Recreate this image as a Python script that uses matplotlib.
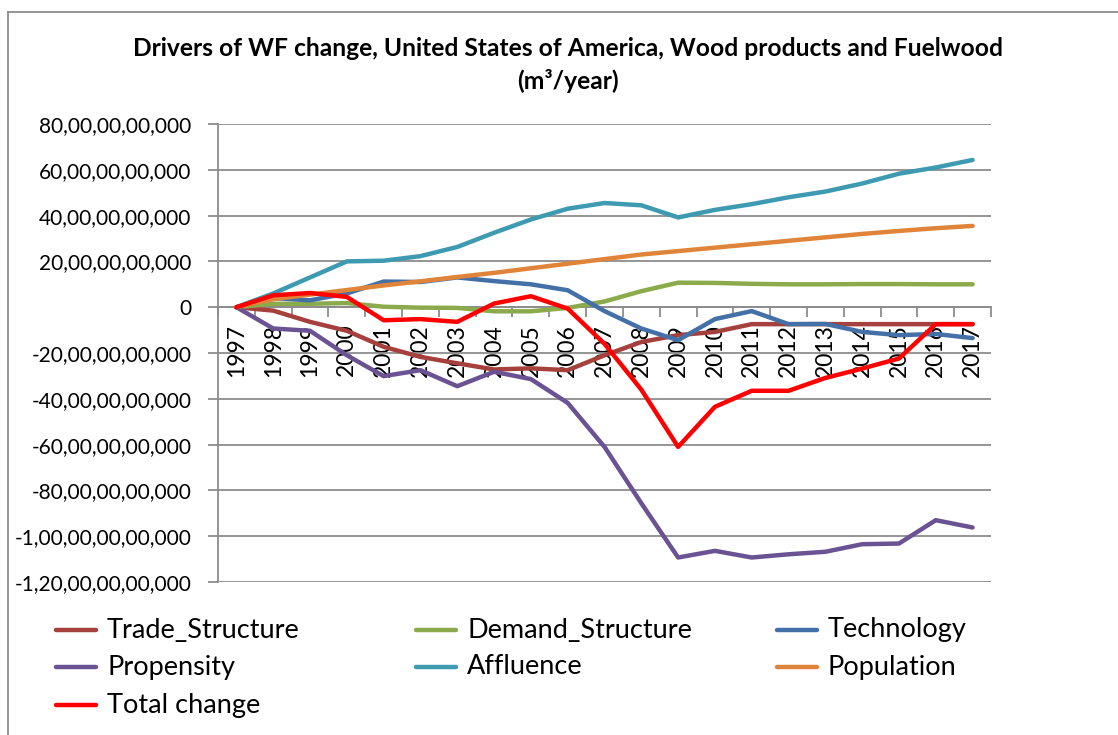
import numpy as np
import matplotlib.pyplot as plt
from matplotlib.lines import Line2D
from matplotlib.ticker import FuncFormatter, MultipleLocator

plt.rcParams['font.family'] = ['Lato', 'DejaVu Sans']

years = [str(y) for y in range(1997, 2018)]

# values in billions of m3/year (1e9)
trade_structure = [0, -1.5, -6.4, -10.3, -17.3, -21.7, -24.5, -27.2, -26.7, -27.5, -21,
                   -15.2, -12.2, -10.8, -7.4, -7.4, -7.4, -7.4, -7.4, -7.4, -7.4]
demand_structure = [0, 1.5, 1.5, 1.8, 0.2, -0.2, -0.3, -1.8, -1.8, -0.3, 2.5,
                    7, 10.7, 10.6, 10.2, 10, 10, 10.1, 10.1, 10, 10]
technology = [0, 4, 3, 6, 11.2, 11, 13, 11.4, 10, 7.4, -1.7,
              -9.3, -14.4, -5.2, -1.7, -7.4, -7.3, -10.8, -12.2, -11.7, -13.5]
propensity = [0, -9.3, -10.3, -21, -30.1, -27.5, -34.5, -28.2, -31.4, -41.8, -61,
              -85.6, -109.3, -106.4, -109.3, -107.9, -106.8, -103.5, -103.2, -93, -96.2]
affluence = [0, 6, 13, 20, 20.3, 22.3, 26.3, 32.5, 38.3, 43, 45.5,
             44.5, 39.2, 42.5, 45, 48, 50.5, 54, 58.3, 61, 64.3]
population = [0, 3.5, 5.5, 7.5, 9.5, 11.3, 13.2, 15, 17, 19, 21,
              23, 24.5, 26, 27.5, 29, 30.5, 32, 33.3, 34.5, 35.5]
total_change = [0, 5.2, 6.2, 4.5, -5.7, -5.2, -6.4, 1.6, 4.8, -0.6, -16,
                -36, -61, -43.5, -36.5, -36.5, -30.9, -26.8, -22.4, -7.4, -7.4]

series = [
    ('Trade_Structure', trade_structure, '#A5403C'),
    ('Demand_Structure', demand_structure, '#8BAA4B'),
    ('Technology', technology, '#4470A8'),
    ('Propensity', propensity, '#6B5293'),
    ('Affluence', affluence, '#3E9AB0'),
    ('Population', population, '#E0843A'),
    ('Total change', total_change, '#FF0000'),
]


def indian_fmt(v, pos):
    n = int(round(v))
    neg = n < 0
    s = str(abs(n))
    if len(s) > 3:
        head, tail = s[:-3], s[-3:]
        parts = []
        while len(head) > 2:
            parts.insert(0, head[-2:])
            head = head[:-2]
        if head:
            parts.insert(0, head)
        s = ','.join(parts) + ',' + tail
    return ('-' if neg else '') + s


W, H = 1118, 735
fig = plt.figure(figsize=(W / 100, H / 100), dpi=100)
ax = fig.add_axes([218 / W, 1 - 582 / H, (991 - 218) / W, (582 - 124) / H])

x = np.arange(len(years))
for name, vals, color in series:
    ax.plot(x, np.array(vals) * 1e9, color=color, lw=3.2, solid_capstyle='round',
            solid_joinstyle='round', zorder=3)

ax.set_xlim(-0.5, len(years) - 0.5)
ax.set_ylim(-120e9, 80e9)
ax.yaxis.set_major_locator(MultipleLocator(20e9))
ax.yaxis.set_major_formatter(FuncFormatter(indian_fmt))
ax.grid(axis='y', color='#8c8c8c', lw=1.3, zorder=0)

for s in ['top', 'right']:
    ax.spines[s].set_visible(False)
ax.spines['left'].set_color('#8c8c8c')
ax.spines['left'].set_linewidth(1.3)
ax.spines['bottom'].set_position(('data', 0))
ax.spines['bottom'].set_color('#8c8c8c')
ax.spines['bottom'].set_linewidth(1.3)
ax.spines['bottom'].set_zorder(1)

ax.set_xticks(np.arange(-0.5, len(years)), minor=False)
ax.set_xticklabels([])
ax.set_xticks(x, minor=True)
ax.set_xticklabels(years, minor=True, rotation=90, fontsize=16.5)
ax.tick_params(axis='x', which='major', direction='out', length=7, color='#8c8c8c', width=1.3)
ax.tick_params(axis='x', which='minor', length=0, pad=12)
ax.tick_params(axis='y', direction='out', length=7, color='#8c8c8c', width=1.3,
               labelsize=15, pad=12)

fig.text(568 / W, 1 - 65 / H,
         'Drivers of WF change, United States of America, Wood products and Fuelwood\n(m³/year)',
         ha='center', va='center', fontsize=17.7, fontweight='bold', linespacing=1.45)

# legend laid out row-wise like the spreadsheet legend
col_x = [56, 416, 777]
row_y = [630, 667, 705]
for i, (name, vals, color) in enumerate(series):
    cx = col_x[i % 3]
    cy = row_y[i // 3]
    fig.add_artist(Line2D([cx / W, (cx + 40) / W], [1 - cy / H, 1 - cy / H],
                          color=color, lw=3.2, solid_capstyle='round'))
    fig.text((cx + 51) / W, 1 - cy / H, name, ha='left', va='center', fontsize=19.5)

# chart area border
fig.add_artist(Line2D([8 / W, 8 / W], [0, 1 - 12 / H], color='#8c8c8c', lw=1.3))
fig.add_artist(Line2D([8 / W, 1], [1 - 12 / H, 1 - 12 / H], color='#8c8c8c', lw=1.3))

fig.savefig('out.png', dpi=100)
